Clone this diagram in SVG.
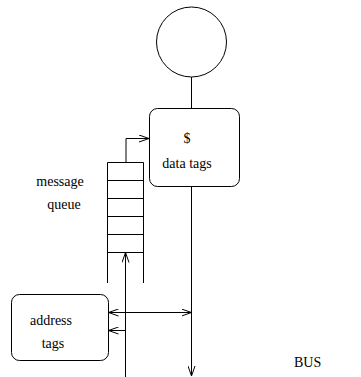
<svg xmlns="http://www.w3.org/2000/svg" width="361" height="377" viewBox="0 0 361 377">
  <style>
    .ln { stroke: #000; stroke-width: 1; fill: none; }
    .box { stroke: #000; stroke-width: 1; fill: #fff; }
    text { font-family: "Liberation Serif", "Times New Roman", serif; font-size: 14px; fill: #000; }
  </style>
  <defs>
    <marker id="arr" viewBox="0 0 10 8" refX="10" refY="4" markerWidth="10" markerHeight="8" markerUnits="userSpaceOnUse" orient="auto-start-reverse">
      <path d="M0,0.5 L10,4 L0,7.5" fill="none" stroke="#000" stroke-width="1"/>
    </marker>
  </defs>
  <rect width="361" height="377" fill="#fff"/>

  <g id="connectors">
    <!-- circle to data tags -->
    <line class="ln" x1="191.5" y1="77" x2="191.5" y2="108.5"/>
    <!-- data tags down to bus end -->
    <line class="ln" x1="191.5" y1="186.5" x2="191.5" y2="376" marker-end="url(#arr)"/>
    <!-- queue head to data tags -->
    <polyline class="ln" points="126,162 126,138.5 149,138.5" marker-end="url(#arr)"/>
    <!-- bus input into queue -->
    <line class="ln" x1="125.5" y1="377" x2="125.5" y2="252.5" marker-end="url(#arr)"/>
    <!-- address tags to/from bus -->
    <line class="ln" x1="108.5" y1="312.5" x2="191.5" y2="312.5" marker-start="url(#arr)" marker-end="url(#arr)"/>
    <line class="ln" x1="125.5" y1="330.5" x2="108.5" y2="330.5" marker-end="url(#arr)"/>
  </g>

  <g id="cache">
    <circle class="ln" cx="191.5" cy="42" r="35"/>
  </g>

  <g id="data-tags">
    <rect class="box" x="149.5" y="108.5" width="90" height="78" rx="8" ry="8"/>
    <text x="187" y="143" text-anchor="middle">$</text>
    <text x="187" y="168" text-anchor="middle">data tags</text>
  </g>

  <g id="message-queue">
    <line class="ln" x1="107.5" y1="162.5" x2="107.5" y2="283"/>
    <line class="ln" x1="143.5" y1="162.5" x2="143.5" y2="283"/>
    <line class="ln" x1="107.5" y1="162.5" x2="143.5" y2="162.5"/>
    <line class="ln" x1="107.5" y1="180.5" x2="143.5" y2="180.5"/>
    <line class="ln" x1="107.5" y1="198.5" x2="143.5" y2="198.5"/>
    <line class="ln" x1="107.5" y1="216.5" x2="143.5" y2="216.5"/>
    <line class="ln" x1="107.5" y1="234.5" x2="143.5" y2="234.5"/>
    <line class="ln" x1="107.5" y1="252.5" x2="143.5" y2="252.5"/>
    <text x="60" y="186" text-anchor="middle">message</text>
    <text x="64" y="209" text-anchor="middle">queue</text>
  </g>

  <g id="address-tags">
    <rect class="box" x="11.5" y="294.5" width="97" height="66" rx="8" ry="8"/>
    <text x="51" y="325" text-anchor="middle">address</text>
    <text x="53" y="348" text-anchor="middle">tags</text>
  </g>

  <g id="bus-label">
    <text x="294" y="367">BUS</text>
  </g>
</svg>
